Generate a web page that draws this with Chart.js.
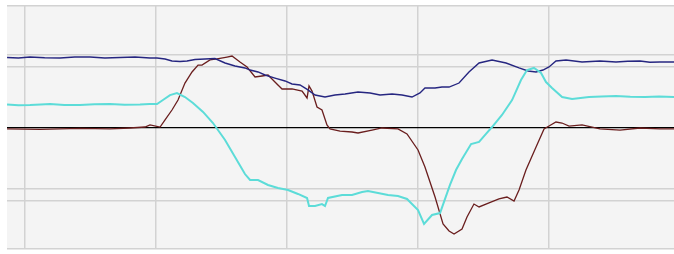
<!DOCTYPE html>
<html>
<head>
<meta charset="utf-8">
<script src="https://cdn.jsdelivr.net/npm/chart.js@4/dist/chart.umd.min.js"></script>
<style>
html,body{margin:0;padding:0;background:#fff;}
canvas{display:block;}
</style>
</head>
<body>
<canvas id="c" width="674" height="254"></canvas>
<script>
// Time axis (grid every 10 units) and signal values (grid at ±50, ±60, ±100)
const xTicks = [0, 10, 20, 30, 40];
const yTicks = [-100, -60, -50, 0, 50, 60, 100];

const navyT = [-1.37,-0.5,0.38,1.5,2.67,3.8,4.96,6.1,7.25,8.4,9.54,10.08,10.69,11.22,11.83,12.37,12.98,13.74,14.5,15.27,16.03,16.79,17.18,17.79,18.32,19.08,19.85,20.38,20.99,21.6,22.14,22.52,22.9,23.66,24.43,25.42,26.34,27.1,28.02,28.78,29.54,30.15,30.53,31.3,31.83,32.37,33.13,33.89,34.66,35.65,36.72,37.71,38.4,39.01,39.54,40.0,40.53,41.3,42.52,43.89,44.5,45.11,46.0,46.95,47.7,48.47,49.54];
const navyV = [57.6,57.2,58.0,57.4,57.2,58.0,58.0,57.2,57.6,58.0,57.2,57.2,56.4,54.7,54.3,54.7,56.0,56.4,56.8,53.1,50.6,49.0,47.3,45.7,43.2,40.7,38.3,35.8,35.0,30.9,26.7,25.9,25.1,26.7,27.6,29.2,28.4,26.7,27.6,26.7,25.1,28.4,32.5,32.5,33.3,33.3,36.6,45.7,53.1,55.6,53.1,49.0,46.5,45.7,47.3,49.8,54.7,55.6,53.9,54.7,54.3,53.9,54.5,54.7,53.7,53.9,53.9];

const cyanT = [-1.37,-0.5,0.38,1.2,1.91,3.0,4.2,5.3,6.49,7.6,8.78,9.5,10.08,10.53,11.07,11.6,12.21,12.82,13.59,14.35,15.27,16.03,16.79,17.18,17.79,18.55,19.31,20.08,20.84,21.53,21.68,22.14,22.67,22.9,23.13,24.2,24.96,25.73,26.18,26.95,27.71,28.47,29.16,29.54,30.0,30.46,31.07,31.68,32.44,32.9,33.36,34.05,34.66,35.19,35.65,36.41,37.18,37.86,38.32,38.85,39.39,39.77,40.23,41.0,41.76,43.05,44.0,45.11,46.2,47.33,48.4,49.54];
const cyanV = [18.9,18.3,18.5,19.0,19.3,18.6,18.5,19.1,19.3,18.7,18.9,19.4,19.3,22.6,26.7,28.4,25.1,20.2,12.8,3.7,-10.3,-24.3,-38.3,-43.2,-43.2,-47.3,-49.8,-51.4,-54.7,-58.0,-64.6,-64.6,-63.0,-64.6,-58.0,-55.6,-55.6,-53.1,-52.3,-53.9,-55.6,-56.4,-58.8,-63.0,-67.9,-79.4,-72.0,-70.4,-47.3,-35.0,-25.9,-13.6,-11.9,-5.3,0.4,10.3,22.6,39.1,47.3,49.0,44.9,37.4,32.5,25.1,23.5,25.1,25.6,25.9,25.3,25.1,25.5,25.1];

const redT = [-1.37,1.15,4.2,6.49,8.02,9.16,9.54,10.31,10.69,11.22,11.68,12.21,12.75,13.21,13.51,14.12,14.66,15.42,15.8,16.41,16.95,17.56,18.09,18.55,19.08,19.62,20.38,21.15,21.53,21.68,21.91,22.29,22.67,23.05,23.28,24.05,24.96,25.42,26.49,27.25,28.47,29.16,30.0,30.53,31.3,31.91,32.37,32.75,33.36,33.74,34.27,34.66,35.42,36.18,36.79,37.33,37.71,38.24,39.01,39.62,40.0,40.53,40.99,41.53,42.52,43.89,45.42,46.95,48.47,49.54];
const redV = [-1.2,-1.6,-0.8,-1.2,-0.4,0.4,2.1,0.4,6.2,14.4,22.6,36.6,45.7,51.4,51.4,55.6,56.4,58.0,58.8,53.9,49.8,41.6,42.4,43.2,37.4,31.7,31.7,30.0,24.3,34.2,30.0,16.9,14.4,2.1,-1.2,-2.9,-3.7,-4.5,-2.1,-0.4,-1.2,-5.3,-18.5,-32.5,-57.2,-79.4,-85.2,-87.7,-83.5,-73.7,-63.0,-65.4,-62.1,-58.8,-57.2,-60.5,-51.4,-35.0,-16.0,-1.2,1.2,4.5,3.7,1.2,2.1,-1.2,-2.1,-0.4,-1.2,-1.2];

const toXY = (t, v) => t.map((x, i) => ({ x: x, y: v[i] }));

const bgPlugin = {
  id: 'plotBg',
  beforeDraw(chart) {
    const a = chart.chartArea, ctx = chart.ctx;
    ctx.save();
    ctx.fillStyle = '#f4f4f4';
    ctx.fillRect(a.left, a.top, a.right - a.left, a.bottom - a.top);
    ctx.restore();
  }
};

new Chart(document.getElementById('c'), {
  type: 'line',
  data: {
    datasets: [
      { data: toXY(cyanT, cyanV), borderColor: '#5cdcd8', borderWidth: 2, pointRadius: 0, tension: 0 },
      { data: toXY(navyT, navyV), borderColor: '#262680', borderWidth: 1.4, pointRadius: 0, tension: 0 },
      { data: toXY(redT, redV), borderColor: '#6a1e1e', borderWidth: 1.3, pointRadius: 0, tension: 0 }
    ]
  },
  options: {
    responsive: false,
    animation: false,
    devicePixelRatio: 1,
    layout: { padding: { left: 7, top: 6, right: 0, bottom: 5 } },
    plugins: { legend: { display: false }, tooltip: { enabled: false } },
    scales: {
      x: {
        type: 'linear', min: -1.374, max: 49.54,
        afterBuildTicks: s => { s.ticks = xTicks.map(v => ({ value: v })); },
        ticks: { display: false },
        border: { display: false },
        grid: { drawTicks: false, color: '#d2d2d2', lineWidth: 1.5 }
      },
      y: {
        type: 'linear', min: -100, max: 100,
        afterBuildTicks: s => { s.ticks = yTicks.map(v => ({ value: v })); },
        ticks: { display: false },
        border: { display: false },
        grid: {
          drawTicks: false,
          color: c => (c.tick && c.tick.value === 0) ? '#000000' : '#d2d2d2',
          lineWidth: c => (c.tick && c.tick.value === 0) ? 1.2 : 1.5
        }
      }
    }
  },
  plugins: [bgPlugin]
});
</script>
</body>
</html>
